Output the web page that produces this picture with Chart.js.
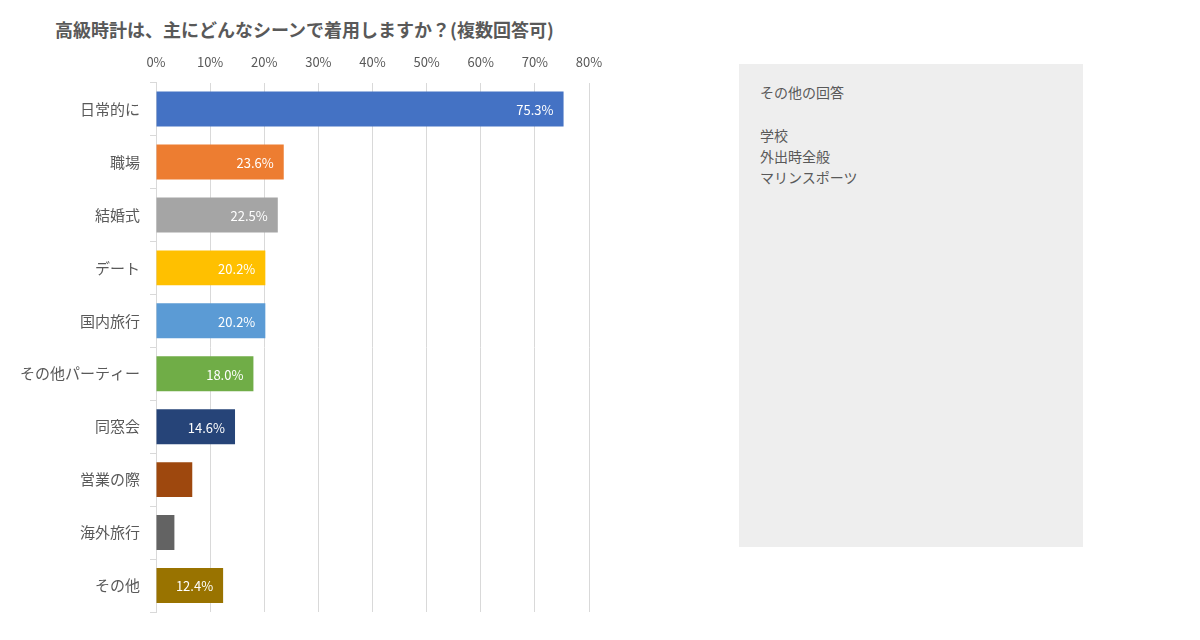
<!DOCTYPE html>
<html>
<head>
<meta charset="utf-8">
<script src="https://cdn.jsdelivr.net/npm/chart.js@4/dist/chart.umd.min.js"></script>
<style>
  body { margin:0; background:#fff; font-family:"Noto Sans CJK JP", sans-serif; }
  #wrap { position:relative; width:1200px; height:640px; }
  #title { position:absolute; left:55px; top:16px; font-size:18px; font-weight:bold; color:#595959; white-space:nowrap; }
  #chartBox { position:absolute; left:0; top:0; width:620px; height:640px; }
  #note { position:absolute; left:739px; top:64px; width:344px; height:483px; background:#eeeeee; color:#595959; font-size:14px; line-height:21px; }
  #note div { position:absolute; left:21px; }
</style>
</head>
<body>
<div id="wrap">
  <div id="title">高級時計は、主にどんなシーンで着用しますか？(複数回答可)</div>
  <div id="chartBox"><canvas id="grafico"></canvas></div>
  <div id="note">
    <div style="top:18px">その他の回答</div>
    <div style="top:61px">学校<br>外出時全般<br>マリンスポーツ</div>
  </div>
</div>
<script>
var categorias = ["日常的に", "職場", "結婚式", "デート", "国内旅行", "その他パーティー", "同窓会", "営業の際", "海外旅行", "その他"]
var valores = [75.3, 23.6, 22.5, 20.2, 20.2, 18.0, 14.6, 6.7, 3.4, 12.4]
var cores = ["#4472C4", "#ED7D31", "#A5A5A5", "#FFC000", "#5B9BD5", "#70AD47", "#264478", "#9E480E", "#636363", "#997300"]
var ticksX = [0, 10, 20, 30, 40, 50, 60, 70, 80]

// rotulos brancos dentro da barra
var rotulos = {
  id: "rotulos",
  afterDatasetsDraw: function(chart) {
    var ctx = chart.ctx
    var meta = chart.getDatasetMeta(0)
    ctx.save()
    ctx.fillStyle = "#ffffff"
    ctx.font = "13px 'Noto Sans CJK JP', sans-serif"
    ctx.textAlign = "right"
    ctx.textBaseline = "middle"
    meta.data.forEach(function(bar, i) {
      if (valores[i] < 10) return
      ctx.fillText(valores[i].toFixed(1) + "%", bar.x - 10, bar.y + 1)
    })
    ctx.restore()
  }
}

var ctx = document.getElementById('grafico').getContext('2d');
var chart = new Chart(ctx, {
  type: "bar",
  data: {
    labels: categorias,
    datasets: [{
      data: valores,
      backgroundColor: cores,
      borderWidth: 0,
      categoryPercentage: 1,
      barPercentage: 0.66
    }]
  },
  options: {
    indexAxis: "y",
    responsive: true,
    maintainAspectRatio: false,
    animation: false,
    layout: { padding: { left: 0, right: 31, top: 41, bottom: 28 } },
    plugins: { legend: { display: false }, tooltip: { enabled: false } },
    scales: {
      x: {
        position: "top",
        min: 0,
        max: 80,
        afterBuildTicks: function(scale) {
          scale.ticks = ticksX.map(function(v) { return { value: v } })
        },
        ticks: {
          color: "#595959",
          font: { size: 13, family: "'Noto Sans CJK JP', sans-serif" },
          padding: 13,
          callback: function(v) { return v + "%" }
        },
        grid: { color: "#d9d9d9", drawTicks: false },
        border: { display: false }
      },
      y: {
        afterFit: function(scale) { scale.width = 156 },
        ticks: {
          color: "#595959",
          font: { size: 15, family: "'Noto Sans CJK JP', sans-serif" },
          padding: 10
        },
        grid: { offset: true, drawOnChartArea: false, color: "#d9d9d9", tickLength: 6 },
        border: { display: true, color: "#d9d9d9" }
      }
    }
  },
  plugins: [rotulos]
});
</script>
</body>
</html>
